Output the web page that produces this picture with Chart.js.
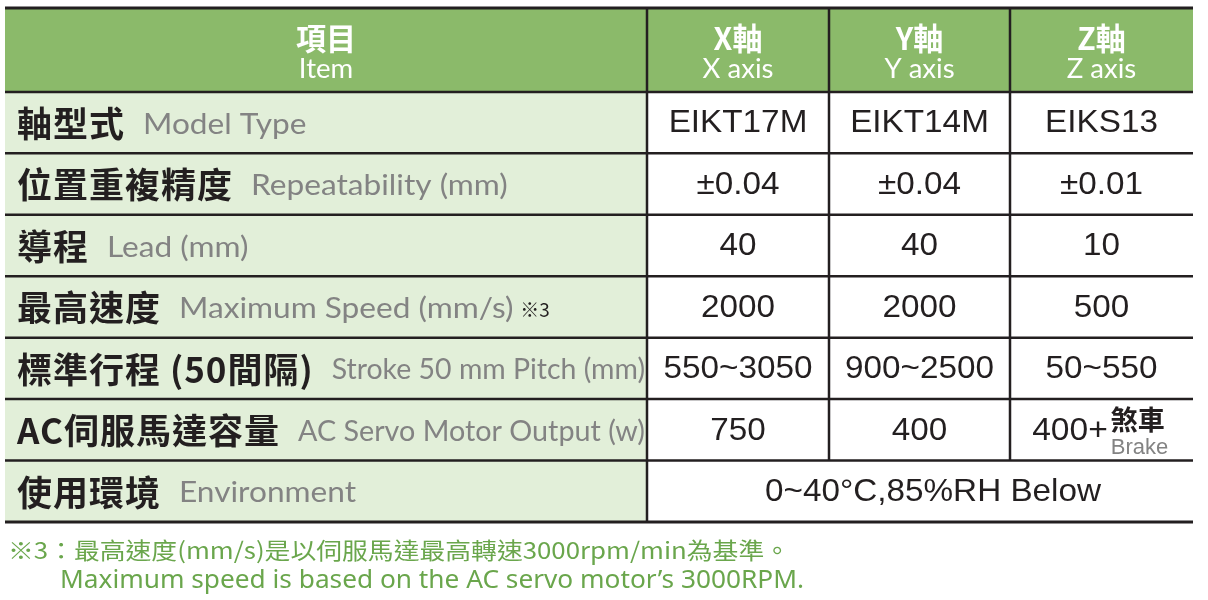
<!DOCTYPE html>
<html>
<head>
<meta charset="utf-8">
<script src="https://cdn.jsdelivr.net/npm/chart.js@4.4.1/dist/chart.umd.min.js"></script>
<style>
  html, body { margin: 0; padding: 0; background: #fff; }
  #specTable { display: block; }
</style>
</head>
<body>
<canvas id="specTable" width="1208" height="600"></canvas>
<script>
// table content
const headerZh = ['項目', 'X軸', 'Y軸', 'Z軸'];
const headerEn = ['Item', 'X axis', 'Y axis', 'Z axis'];
const itemsZh = ['軸型式', '位置重複精度', '導程', '最高速度', '標準行程 (50間隔)', 'AC伺服馬達容量', '使用環境'];
const itemsEn = ['Model Type', 'Repeatability (mm)', 'Lead (mm)', 'Maximum Speed (mm/s)', 'Stroke 50 mm Pitch (mm)', 'AC Servo Motor Output (w)', 'Environment'];
const itemNotes = ['', '', '', '※3', '', '', ''];
const xAxisValues = ['EIKT17M', '±0.04', '40', '2000', '550~3050', '750', '0~40°C,85%RH Below'];
const yAxisValues = ['EIKT14M', '±0.04', '40', '2000', '900~2500', '400', null];
const zAxisValues = ['EIKS13', '±0.01', '10', '500', '50~550', '400+', null];
const zBrakeZh = '煞車';
const zBrakeEn = 'Brake';
const footnotes = ['※3：最高速度(mm/s)是以伺服馬達最高轉速3000rpm/min為基準。',
                   'Maximum speed is based on the AC servo motor\u2019s 3000RPM.'];

// layout (relative sizes on the hidden scales)
const colWidths = [642, 182, 181, 183];
const rowHeights = [84, 61.5, 61.5, 61.5, 61.5, 61.5, 61.5, 61.5];

const GREEN = '#8bba6a';
const PALE = '#e2efd9';
const INK = '#231f20';
const GREY = '#838383';
const NOTE = '#6aa64c';
const ZH = '"Noto Sans CJK TC", "Noto Sans CJK SC", sans-serif';
const EN = 'Lato, "Open Sans", sans-serif';
const NUM = '"Liberation Sans", Arial, sans-serif';

const valueCols = [xAxisValues, yAxisValues, zAxisValues];

function edges(sizes) {
  const out = [0];
  sizes.forEach(s => out.push(out[out.length - 1] + s));
  return out;
}
const colEdges = edges(colWidths);
const rowEdges = edges(rowHeights);

// draws text stretched by `stretch`, squeezed when wider than maxW
// (exact = true forces the text to fill maxW)
function fitText(ctx, text, x, y, maxW, align, stretch, exact) {
  const w = ctx.measureText(text).width * (stretch || 1);
  let k = stretch || 1;
  if (maxW && (exact || w > maxW)) k *= maxW / w;
  ctx.save();
  ctx.translate(x, y);
  ctx.scale(k, 1);
  ctx.textAlign = align || 'left';
  ctx.fillText(text, 0, 0);
  ctx.restore();
  return ctx.measureText(text).width * k;
}

const tablePlugin = {
  id: 'specTable',
  afterDraw(chart) {
    const ctx = chart.ctx;
    const xs = chart.scales.x, ys = chart.scales.y;
    const cx = colEdges.map(v => xs.getPixelForValue(v));
    const ry = rowEdges.map(v => ys.getPixelForValue(v));
    const nRows = rowHeights.length;

    ctx.save();
    // backgrounds
    ctx.fillStyle = GREEN;
    ctx.fillRect(cx[0], ry[0], cx[4] - cx[0], ry[1] - ry[0]);
    ctx.fillStyle = PALE;
    ctx.fillRect(cx[0], ry[1], cx[1] - cx[0], ry[nRows] - ry[1]);
    ctx.fillStyle = '#ffffff';
    ctx.fillRect(cx[1], ry[1], cx[4] - cx[1], ry[nRows] - ry[1]);

    ctx.textBaseline = 'middle';

    // header
    for (let c = 0; c < 4; c++) {
      const mid = (cx[c] + cx[c + 1]) / 2;
      const h = ry[1] - ry[0];
      ctx.fillStyle = '#ffffff';
      ctx.font = 'bold 31px ' + ZH;
      fitText(ctx, headerZh[c], mid, ry[0] + h * 0.36, 0, 'center', 0.97);
      ctx.font = '26px ' + EN;
      fitText(ctx, headerEn[c], mid, ry[0] + h * 0.74, 0, 'center', 1.06);
    }

    // body rows
    for (let r = 0; r < itemsZh.length; r++) {
      const top = ry[r + 1], bot = ry[r + 2];
      const my = (top + bot) / 2 + 1;
      let x = cx[0] + 12;
      ctx.fillStyle = INK;
      ctx.font = 'bold 35px ' + ZH;
      ctx.letterSpacing = '1px';
      x += fitText(ctx, itemsZh[r], x, my, 0, 'left', 1);
      ctx.letterSpacing = '0px';
      x += 18;
      ctx.fillStyle = GREY;
      ctx.font = '28px ' + EN;
      const room = cx[1] - x - (itemNotes[r] ? 48 : 2);
      x += fitText(ctx, itemsEn[r], x, my + 1, room, 'left', 1.13);
      if (itemNotes[r]) {
        ctx.fillStyle = INK;
        ctx.font = '19px ' + ZH;
        fitText(ctx, itemNotes[r], x + 7, my + 2, 0, 'left');
      }

      // values
      ctx.fillStyle = INK;
      for (let c = 0; c < 3; c++) {
        const v = valueCols[c][r];
        if (v === null) continue;
        let span = 1;
        while (c + span < 3 && valueCols[c + span][r] === null) span++;
        const left = cx[c + 1], right = cx[c + 1 + span];
        const mid = (left + right) / 2 + (span > 1 ? 13 : 0);
        ctx.font = '32px ' + NUM;
        if (c === 2 && r === 5) {
          // 400+ with brake note
          const w1 = ctx.measureText(v).width * 1.05;
          let sx = mid - (w1 + 3 + 60) / 2;
          ctx.fillStyle = INK;
          fitText(ctx, v, sx, my, 0, 'left', 1.05);
          sx += w1 + 3;
          ctx.font = 'bold 27px ' + ZH;
          ctx.fillText(zBrakeZh, sx, my - 11);
          ctx.fillStyle = GREY;
          ctx.font = '22px ' + NUM;
          ctx.fillText(zBrakeEn, sx, my + 17);
          continue;
        }
        fitText(ctx, v, mid, my, right - left - 6, 'center', 1.04);
      }
    }

    // grid lines
    ctx.strokeStyle = INK;
    for (let i = 0; i <= nRows; i++) {
      ctx.lineWidth = (i === 0 || i === nRows) ? 3 : 2.5;
      ctx.beginPath();
      ctx.moveTo(cx[0], ry[i]);
      ctx.lineTo(cx[4], ry[i]);
      ctx.stroke();
    }
    ctx.lineWidth = 2.5;
    for (let c = 1; c < 4; c++) {
      ctx.beginPath();
      for (let r = 0; r < nRows; r++) {
        const merged = r > 0 && c > 1 && valueCols[c - 1][r - 1] === null;
        if (merged) continue;
        ctx.moveTo(cx[c], ry[r]);
        ctx.lineTo(cx[c], ry[r + 1]);
      }
      ctx.stroke();
    }

    // footnote
    ctx.fillStyle = NOTE;
    ctx.font = '23px ' + ZH;
    fitText(ctx, footnotes[0], cx[0] + 3, ry[nRows] + 28, 782, 'left', 1, true);
    ctx.font = '25px "Noto Sans", ' + ZH;
    fitText(ctx, footnotes[1], cx[0] + 55, ry[nRows] + 59, 744, 'left', 1, true);
    ctx.restore();
  }
};

new Chart(document.getElementById('specTable'), {
  type: 'scatter',
  data: { datasets: [{ data: [] }] },
  options: {
    responsive: false,
    animation: false,
    events: [],
    layout: { padding: { left: 5, right: 15, top: 8, bottom: 78 } },
    plugins: { legend: { display: false }, tooltip: { enabled: false } },
    scales: {
      x: { type: 'linear', display: false, min: 0, max: colEdges[colEdges.length - 1] },
      y: { type: 'linear', display: false, reverse: true, min: 0, max: rowEdges[rowEdges.length - 1] }
    }
  },
  plugins: [tablePlugin]
});
</script>
</body>
</html>
